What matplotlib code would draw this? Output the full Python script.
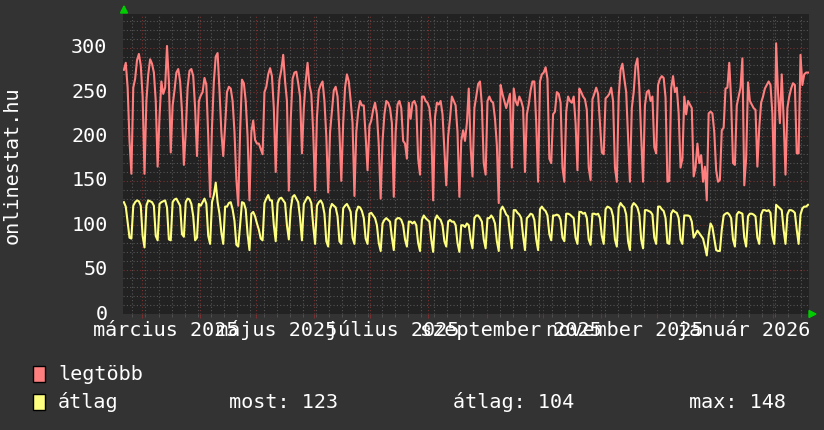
import matplotlib
matplotlib.use("Agg")

import matplotlib.pyplot as plt
import pandas as pd
from matplotlib.patches import Polygon, Rectangle

# ──────────────────────────────────────────────────────────────────────────
# Data (daily values; rows are weeks Mon..Sun)
# ──────────────────────────────────────────────────────────────────────────
START = "2025-02-19 12:00"

legtobb_weeks = [
    [275, 283, 255, 195, 158, 255],
    [265, 286, 293, 280, 245, 158, 240],
    [270, 287, 282, 272, 240, 166, 222],
    [262, 248, 255, 302, 262, 182, 235],
    [252, 272, 276, 262, 228, 168, 205],
    [255, 274, 276, 268, 232, 178, 240],
    [246, 250, 266, 258, 200, 132, 210],
    [262, 290, 294, 252, 205, 178, 212],
    [250, 256, 254, 240, 205, 152, 122],
    [205, 264, 260, 240, 200, 128, 205],
    [218, 196, 192, 192, 186, 180, 250],
    [256, 270, 277, 268, 232, 160, 232],
    [264, 275, 292, 262, 240, 139, 218],
    [265, 272, 273, 260, 245, 181, 232],
    [262, 283, 258, 248, 205, 139, 222],
    [252, 258, 262, 240, 200, 137, 205],
    [228, 252, 256, 245, 205, 150, 215],
    [255, 270, 262, 240, 215, 133, 205],
    [228, 240, 235, 235, 200, 162, 212],
    [218, 230, 238, 225, 190, 130, 195],
    [225, 240, 238, 232, 215, 132, 205],
    [236, 240, 232, 195, 192, 175, 238],
    [220, 238, 240, 234, 175, 157, 245],
    [245, 240, 238, 232, 210, 128, 222],
    [238, 236, 240, 225, 185, 145, 200],
    [220, 245, 240, 235, 205, 132, 195],
    [207, 195, 215, 254, 188, 155, 232],
    [245, 259, 262, 235, 170, 157, 240],
    [245, 240, 238, 220, 190, 125, 258],
    [248, 240, 232, 240, 248, 165, 254],
    [240, 235, 245, 240, 232, 160, 225],
    [236, 252, 262, 262, 215, 149, 262],
    [270, 272, 278, 265, 175, 170, 225],
    [228, 250, 248, 238, 165, 149, 228],
    [245, 240, 238, 245, 215, 162, 254],
    [250, 245, 242, 230, 165, 151, 242],
    [248, 255, 248, 215, 182, 180, 243],
    [245, 248, 255, 240, 165, 149, 245],
    [275, 282, 265, 250, 200, 149, 232],
    [250, 280, 288, 255, 200, 149, 235],
    [250, 252, 240, 245, 188, 181, 258],
    [265, 268, 266, 244, 149, 150, 254],
    [268, 250, 255, 226, 165, 175, 245],
    [225, 240, 236, 232, 155, 165, 192],
    [170, 179, 149, 166, 128, 226, 228],
    [226, 205, 162, 149, 151, 207, 210],
    [254, 255, 283, 240, 170, 168, 235],
    [245, 255, 288, 145, 175, 261, 240],
    [236, 232, 230, 166, 210, 238, 245],
    [254, 258, 262, 258, 226, 145, 305],
    [250, 215, 270, 220, 157, 232, 245],
    [254, 260, 258, 181, 181, 292, 258],
    [270, 272, 272],
]

atlag_weeks = [
    [126, 121, 104, 86, 85, 122],
    [126, 128, 127, 122, 88, 75, 122],
    [128, 127, 126, 122, 88, 83, 124],
    [126, 127, 128, 120, 84, 83, 126],
    [129, 130, 126, 122, 90, 87, 126],
    [130, 129, 124, 110, 83, 86, 124],
    [122, 126, 130, 124, 88, 79, 126],
    [134, 148, 126, 113, 92, 79, 121],
    [121, 125, 126, 118, 105, 78, 76],
    [100, 126, 125, 118, 90, 72, 113],
    [115, 110, 102, 95, 85, 83, 125],
    [130, 134, 128, 128, 100, 82, 125],
    [130, 131, 128, 125, 100, 84, 118],
    [132, 134, 130, 126, 108, 83, 124],
    [128, 132, 130, 125, 100, 79, 122],
    [126, 128, 124, 113, 82, 76, 118],
    [124, 122, 120, 110, 82, 79, 119],
    [122, 124, 120, 115, 86, 79, 115],
    [121, 120, 116, 108, 85, 79, 113],
    [114, 111, 108, 100, 80, 71, 102],
    [106, 108, 106, 104, 86, 72, 106],
    [108, 108, 106, 100, 84, 76, 104],
    [104, 102, 104, 100, 80, 71, 106],
    [111, 108, 106, 104, 84, 70, 106],
    [111, 108, 106, 100, 82, 76, 104],
    [106, 104, 104, 100, 80, 70, 100],
    [100, 98, 102, 100, 84, 74, 108],
    [111, 111, 108, 104, 84, 74, 108],
    [108, 111, 108, 102, 82, 71, 117],
    [121, 117, 112, 110, 90, 74, 117],
    [117, 114, 112, 108, 88, 72, 108],
    [110, 113, 112, 106, 84, 72, 118],
    [121, 118, 116, 111, 90, 83, 111],
    [111, 112, 111, 106, 86, 82, 113],
    [113, 112, 110, 108, 86, 79, 115],
    [115, 113, 114, 108, 84, 78, 113],
    [113, 112, 113, 108, 88, 79, 118],
    [121, 120, 118, 110, 84, 76, 120],
    [125, 122, 120, 112, 82, 72, 121],
    [125, 123, 120, 112, 84, 74, 117],
    [117, 116, 115, 112, 86, 79, 121],
    [121, 118, 116, 108, 80, 79, 113],
    [117, 115, 114, 108, 84, 79, 111],
    [111, 111, 110, 104, 86, 90, 94],
    [91, 88, 85, 76, 66, 88, 102],
    [98, 85, 72, 71, 71, 95, 111],
    [113, 114, 112, 108, 84, 76, 112],
    [115, 114, 113, 86, 76, 110, 113],
    [113, 112, 110, 86, 79, 112, 117],
    [117, 116, 117, 114, 88, 79, 123],
    [121, 119, 117, 95, 79, 112, 117],
    [117, 116, 114, 95, 79, 112, 119],
    [121, 121, 123],
]

legtobb = [v for week in legtobb_weeks for v in week]
atlag = [v for week in atlag_weeks for v in week]

y_ticks = [0, 50, 100, 150, 200, 250, 300]
x_labels = ["március 2025", "május 2025", "július 2025",
            "szeptember 2025", "november 2025", "január 2026"]
x_label_dates = ["2025-03-14", "2025-05-12", "2025-07-13",
                 "2025-09-14", "2025-11-14", "2026-01-16"]
legend_stats = ["most: 123", "átlag: 104", "max: 148"]

# ──────────────────────────────────────────────────────────────────────────
# Style
# ──────────────────────────────────────────────────────────────────────────
W, H = 824, 430
BACK = "#333333"
CANVAS = "#222222"
GRID = "#555555"
MGRID = "#7a3030"
FONT = "#ffffff"
ARROW = "#00cc00"
PINK = "#ff7f7f"
YELLOW = "#ffff7f"

plt.rcParams["font.family"] = ["DejaVu Sans Mono"]
FS = 14.5


def fx(px):
    return px / W


def fy(py):
    return 1 - py / H


X0, X1, Y0, Y1 = 123.5, 809.0, 14.0, 314.0
YMAX = 338

fig = plt.figure(figsize=(W / 100, H / 100), dpi=100, facecolor=BACK)
ax = fig.add_axes([fx(X0), fy(Y1), (X1 - X0) / W, (Y1 - Y0) / H])
ax.set_facecolor(CANVAS)

dates = pd.date_range(START, periods=len(legtobb), freq="D")
ax.set_xlim(pd.Timestamp("2025-02-19 07:00"), pd.Timestamp("2026-02-20 01:00"))
ax.set_ylim(0, YMAX)

# grid
dot = (0, (1, 2))
for v in range(10, YMAX, 10):
    ax.axhline(v, color=MGRID if v % 50 == 0 else GRID, lw=0.8, ls=dot, zorder=1)
months = pd.date_range("2025-03-01", "2026-02-01", freq="MS")
mondays = pd.date_range("2025-02-24", "2026-02-16", freq="7D")
for d in mondays:
    if d not in months:
        ax.axvline(d, color=GRID, lw=0.8, ls=dot, zorder=1)
for d in months:
    ax.axvline(d, color=MGRID, lw=0.8, ls=dot, zorder=1)

ax.plot(dates, legtobb, color=PINK, lw=1.5, zorder=3)
ax.plot(dates, atlag, color=YELLOW, lw=1.5, zorder=4)

ax.set_xticks(months)
ax.set_xticks(mondays, minor=True)
ax.set_yticks([])
ax.tick_params(axis="x", which="major", length=3, color=MGRID, labelbottom=False)
ax.tick_params(axis="x", which="minor", length=2, color=GRID)
for s in ax.spines.values():
    s.set_visible(False)

# tick labels
for v in y_ticks:
    fig.text(fx(107.5), fy(Y1 - v * (Y1 - Y0) / YMAX), str(v),
             ha="right", va="center", fontsize=FS, color=FONT)
for lab, d in zip(x_labels, x_label_dates):
    ax.text(pd.Timestamp(d), -0.055, lab, transform=ax.get_xaxis_transform(),
            ha="center", va="center", fontsize=FS, color=FONT)

fig.text(fx(12), fy(165), "onlinestat.hu", rotation=90, ha="center",
         va="center", fontsize=FS, color=FONT)

# arrows
fig.patches.append(Polygon([[fx(120.5), fy(13)], [fx(127.5), fy(13)], [fx(124), fy(6)]],
                           closed=True, color=ARROW, transform=fig.transFigure))
fig.patches.append(Polygon([[fx(809), fy(310.5)], [fx(809), fy(317.5)], [fx(816), fy(314)]],
                           closed=True, color=ARROW, transform=fig.transFigure))

# legend
for ypx, col, name in [(374, PINK, "legtöbb"), (402, YELLOW, "átlag")]:
    fig.patches.append(Rectangle((fx(33), fy(ypx + 8)), 12 / W, 16 / H,
                                 facecolor=col, edgecolor="black", lw=1,
                                 transform=fig.transFigure))
    fig.text(fx(58), fy(ypx), name, ha="left", va="center", fontsize=FS, color=FONT)
for xpx, txt in zip([229, 453, 689], legend_stats):
    fig.text(fx(xpx), fy(402), txt, ha="left", va="center", fontsize=FS, color=FONT)

fig.savefig("out.png", dpi=100, facecolor=BACK)
